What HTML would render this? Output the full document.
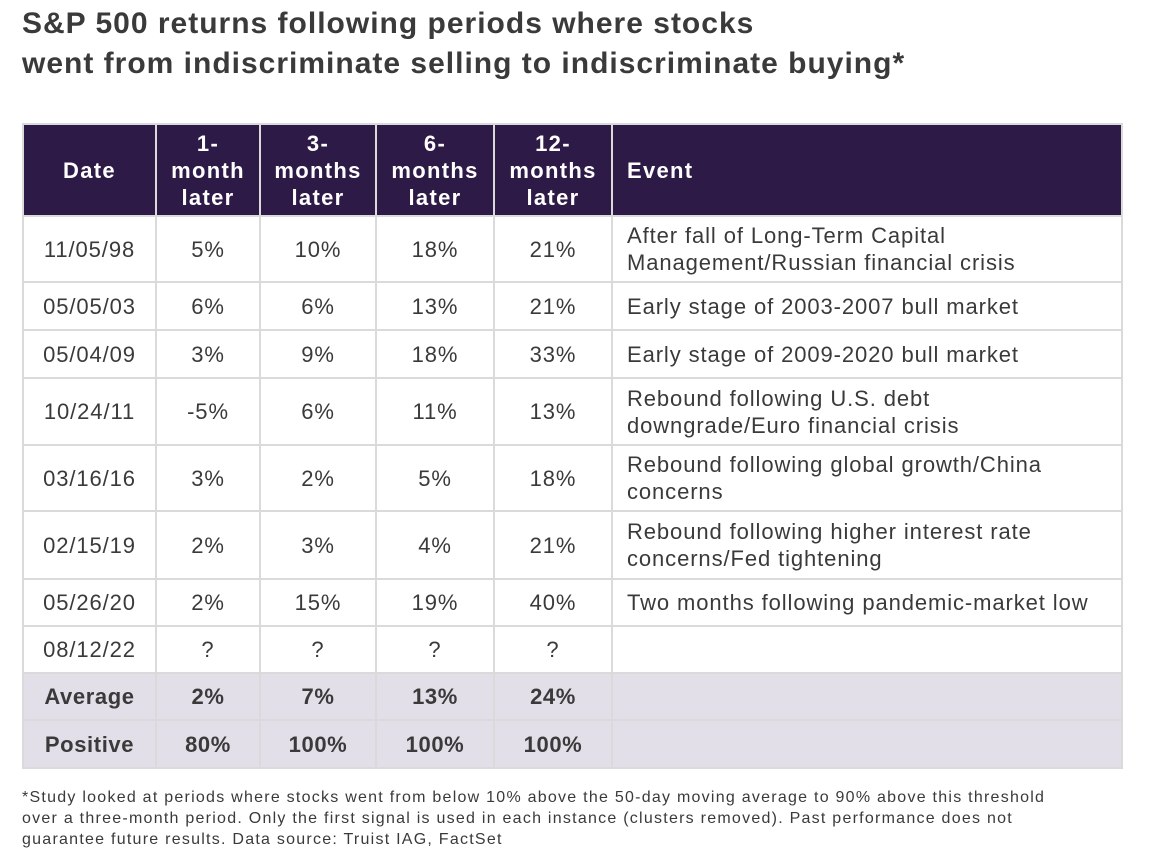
<!DOCTYPE html>
<html><head><meta charset="utf-8"><style>
body{margin:0;width:1153px;height:857px;background:#fff;font-family:"Liberation Sans",Arial,sans-serif;color:#3a3a3a;position:relative;overflow:hidden}
h1{position:absolute;left:22px;top:4px;margin:0;font-size:30px;letter-spacing:1px;line-height:40px;font-weight:bold;color:#3a3a3a}
table{position:absolute;left:22px;top:123px;border-collapse:collapse;table-layout:fixed;width:1099px}
td,th{border:2px solid #dadada;text-align:center;font-size:22px;padding:0;line-height:27px;letter-spacing:0.9px}
th{background:#2e1a47;color:#fff;font-weight:bold;letter-spacing:1.3px}
td.ev{text-align:left;padding-left:14px}
th.ev{text-align:left;padding-left:14px}
tr.sum td{background:#e2dfe8;font-weight:bold;letter-spacing:0.6px}
.fn{position:absolute;left:22px;top:787px;font-size:16px;letter-spacing:1.25px;line-height:21px;color:#3a3a3a;width:1120px}
</style></head><body>
<h1>S&amp;P 500 returns following periods where stocks<br>went from indiscriminate selling to indiscriminate buying*</h1>
<table>
<colgroup><col style="width:133px"><col style="width:104px"><col style="width:116px"><col style="width:118px"><col style="width:118px"><col style="width:510px"></colgroup>
<tr style="height:92px"><th>Date</th><th>1-<br>month<br>later</th><th>3-<br>months<br>later</th><th>6-<br>months<br>later</th><th>12-<br>months<br>later</th><th class="ev">Event</th></tr>
<tr style="height:66px"><td>11/05/98</td><td>5%</td><td>10%</td><td>18%</td><td>21%</td><td class="ev">After fall of Long-Term Capital<br>Management/Russian financial crisis</td></tr>
<tr style="height:48px"><td>05/05/03</td><td>6%</td><td>6%</td><td>13%</td><td>21%</td><td class="ev">Early stage of 2003-2007 bull market</td></tr>
<tr style="height:48px"><td>05/04/09</td><td>3%</td><td>9%</td><td>18%</td><td>33%</td><td class="ev">Early stage of 2009-2020 bull market</td></tr>
<tr style="height:67px"><td>10/24/11</td><td>-5%</td><td>6%</td><td>11%</td><td>13%</td><td class="ev">Rebound following U.S. debt<br>downgrade/Euro financial crisis</td></tr>
<tr style="height:66px"><td>03/16/16</td><td>3%</td><td>2%</td><td>5%</td><td>18%</td><td class="ev">Rebound following global growth/China<br>concerns</td></tr>
<tr style="height:68px"><td>02/15/19</td><td>2%</td><td>3%</td><td>4%</td><td>21%</td><td class="ev">Rebound following higher interest rate<br>concerns/Fed tightening</td></tr>
<tr style="height:47px"><td>05/26/20</td><td>2%</td><td>15%</td><td>19%</td><td>40%</td><td class="ev">Two months following pandemic-market low</td></tr>
<tr style="height:47px"><td>08/12/22</td><td>?</td><td>?</td><td>?</td><td>?</td><td class="ev"></td></tr>
<tr class="sum" style="height:47px"><td>Average</td><td>2%</td><td>7%</td><td>13%</td><td>24%</td><td></td></tr>
<tr class="sum" style="height:48px"><td>Positive</td><td>80%</td><td>100%</td><td>100%</td><td>100%</td><td></td></tr>
</table>
<div class="fn">*Study looked at periods where stocks went from below 10% above the 50-day moving average to 90% above this threshold<br>over a three-month period. Only the first signal is used in each instance (clusters removed). Past performance does not<br>guarantee future results. Data source: Truist IAG, FactSet</div>
</body></html>
